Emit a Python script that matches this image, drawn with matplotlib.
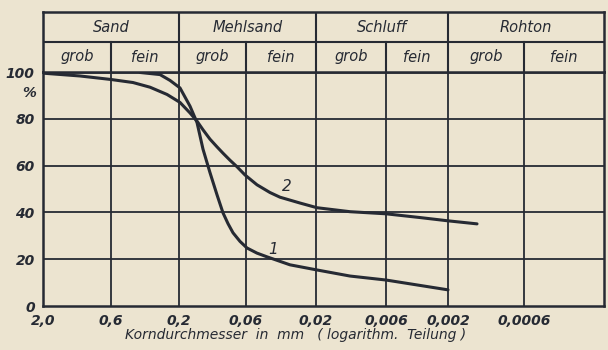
import numpy as np
import matplotlib.pyplot as plt

# grain size axis (mm), drawn with equal spacing between the printed values
size_ticks = [2.0, 0.6, 0.2, 0.06, 0.02, 0.006, 0.002, 0.0006]
size_labels = ['2,0', '0,6', '0,2', '0,06', '0,02', '0,006', '0,002', '0,0006']
size_end = 0.0002
pct_ticks = [0, 20, 40, 60, 80, 100]

# curve 1 (steep) and curve 2 (flat)
d1 = [0.3756, 0.2719, 0.2312, 0.1965, 0.1641, 0.1447, 0.1299, 0.1146,
      0.1010, 0.0907, 0.0829, 0.0758, 0.0668, 0.0591, 0.0505, 0.0431,
      0.0301, 0.01966, 0.01114, 0.006, 0.002]
p1 = [99.8, 98.9, 96.4, 93.2, 85.4, 78.4, 67, 57,
      47.5, 39.8, 35.2, 31.3, 27.6, 24.8, 22.6, 21.0,
      17.6, 15.4, 12.8, 11.1, 6.9]
d2 = [2.0, 1.039, 0.6, 0.4205, 0.3194, 0.2427, 0.1965, 0.1641, 0.1447,
      0.1299, 0.1146, 0.1010, 0.0907, 0.0800, 0.0705, 0.0611, 0.0505,
      0.0412, 0.0352, 0.0257, 0.01966, 0.01114, 0.006, 0.003285, 0.002,
      0.001263]
p2 = [99.5, 98.3, 96.8, 95.5, 93.5, 90.4, 87, 82.5, 79,
      75.3, 71.3, 68, 65.3, 62.3, 59.5, 56, 51.8,
      48.5, 46.5, 44, 42, 40.3, 39.4, 37.8, 36.4,
      35.1]

main_groups = ['Sand', 'Mehlsand', 'Schluff', 'Rohton']
sub_groups = ['grob', 'fein']

# column positions of the printed grid (pixels from the left edge)
col_pos = [0, 68, 136, 203, 273, 343, 405, 481, 561]
edges = size_ticks + [size_end]
logd = -np.log10(edges)


def fwd(d):
    d = np.clip(np.asarray(d, dtype=float), 1e-9, None)
    return np.interp(-np.log10(d), logd, col_pos)


def inv(p):
    return 10 ** (-np.interp(p, col_pos, logd))


def mid(a, b):
    return float(inv((fwd(a) + fwd(b)) / 2))


bg = '#ece4d0'
ink = '#262a33'
font = ['Liberation Sans Narrow', 'DejaVu Sans']
plt.rcParams['font.family'] = font

fig = plt.figure(figsize=(6.08, 3.5), dpi=100, facecolor=bg)
left, right = 43 / 608, 604 / 608
bot, top, htop = 1 - 306 / 350, 1 - 72 / 350, 1 - 12 / 350
ax = fig.add_axes([left, bot, right - left, top - bot], facecolor=bg)
axh = fig.add_axes([left, top, right - left, htop - top], facecolor=bg)

for a in (ax, axh):
    a.set_xscale('function', functions=(fwd, inv))
    a.set_xlim(size_end, 2.0)
    for s in a.spines.values():
        s.set_color(ink)
        s.set_linewidth(1.8)

ax.set_ylim(0, 100)
ax.plot(d1, p1, color=ink, lw=2.2, solid_capstyle='round',
        solid_joinstyle='round')
ax.plot(d2, p2, color=ink, lw=2.2, solid_capstyle='round',
        solid_joinstyle='round')
ax.text(0.0393, 24, '1', fontsize=11, style='italic', color=ink,
        ha='center', va='center')
ax.text(0.0316, 51, '2', fontsize=11, style='italic', color=ink,
        ha='center', va='center')

for x in size_ticks[1:]:
    ax.axvline(x, color=ink, lw=1.3, zorder=0)
for y in pct_ticks[1:-1]:
    ax.axhline(y, color=ink, lw=1.3, zorder=0)

ax.set_xticks(size_ticks)
ax.set_xticklabels(size_labels)
ax.set_yticks(pct_ticks)
ax.set_yticklabels([str(v) for v in pct_ticks])
ax.tick_params(length=0, pad=6, labelsize=10, colors=ink)
for t in ax.get_xticklabels() + ax.get_yticklabels():
    t.set_style('italic')
    t.set_fontweight('bold')
ax.text(-0.012, 91, '%', transform=ax.get_yaxis_transform(), ha='right',
        va='center', fontsize=10, style='italic', fontweight='bold', color=ink)
ax.set_xlabel('Korndurchmesser  in  mm   ( logarithm.  Teilung )',
              fontsize=10, style='italic', color=ink)
ax.xaxis.set_label_coords(0.45, -0.095)

# header table
axh.set_ylim(0, 2)
axh.set_xticks([])
axh.set_yticks([])
axh.axhline(1, color=ink, lw=1.5)
for i, name in enumerate(main_groups):
    a, b = edges[2 * i], edges[2 * i + 2]
    if i > 0:
        axh.axvline(a, color=ink, lw=1.5)
    axh.axvline(edges[2 * i + 1], ymin=0, ymax=0.5, color=ink, lw=1.5)
    axh.text(mid(a, b), 1.5, name, ha='center', va='center', fontsize=10.5,
             style='italic', color=ink)
    for j, sub in enumerate(sub_groups):
        axh.text(mid(edges[2 * i + j], edges[2 * i + j + 1]), 0.5, sub,
                 ha='center', va='center', fontsize=10.5, style='italic',
                 color=ink)

fig.savefig('out.png', dpi=100, facecolor=bg)
